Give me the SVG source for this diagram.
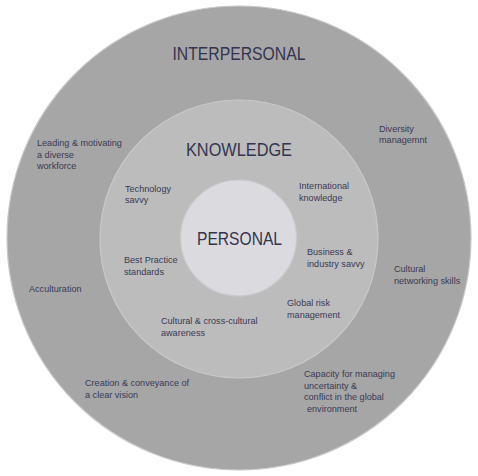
<svg xmlns="http://www.w3.org/2000/svg" width="478" height="476" viewBox="0 0 478 476">
<style>
.ring{stroke:#c9c9cc;stroke-width:1.2}
.big{font-family:"Liberation Sans",Arial,sans-serif;font-size:18px;fill:#34344f;text-anchor:middle}
.sm{font-family:"Liberation Sans",Arial,sans-serif;font-size:9.1px;fill:#3a3a55}
</style>
<rect width="478" height="476" fill="#ffffff"/>
<g id="interpersonal">
<circle class="ring" cx="239" cy="238" r="232" fill="#a6a6a6"/>
<text class="big" x="239" y="60" textLength="133" lengthAdjust="spacingAndGlyphs">INTERPERSONAL</text>
</g>
<g id="knowledge">
<circle class="ring" cx="239" cy="239" r="139" fill="#bcbcbc"/>
<text class="big" x="239" y="156" textLength="106" lengthAdjust="spacingAndGlyphs">KNOWLEDGE</text>
</g>
<g id="personal">
<circle class="ring" cx="238.5" cy="238" r="58" fill="#dbdbdf"/>
<text class="big" x="239.5" y="245" textLength="85" lengthAdjust="spacingAndGlyphs">PERSONAL</text>
</g>
<g id="labels-outer" class="sm">
<text x="37" y="146">Leading &amp; motivating</text>
<text x="37" y="157.5">a diverse</text>
<text x="37" y="169">workforce</text>
<text x="379" y="131.5">Diversity</text>
<text x="379" y="143">managemnt</text>
<text x="29" y="292">Acculturation</text>
<text x="394" y="272">Cultural</text>
<text x="394" y="283.5">networking skills</text>
<text x="85" y="386">Creation &amp; conveyance of</text>
<text x="85" y="398">a clear vision</text>
<text x="304" y="376.5">Capacity for managing</text>
<text x="304" y="388.5">uncertainty &amp;</text>
<text x="304" y="400.3">conflict in the global</text>
<text x="307" y="412">environment</text>
</g>
<g id="labels-knowledge" class="sm">
<text x="125" y="191.5">Technology</text>
<text x="125" y="203">savvy</text>
<text x="299" y="189">International</text>
<text x="299" y="200.7">knowledge</text>
<text x="124" y="263.3">Best Practice</text>
<text x="124" y="274.7">standards</text>
<text x="307" y="255.3">Business &amp;</text>
<text x="307" y="266.8">industry savvy</text>
<text x="287" y="306">Global risk</text>
<text x="287" y="317.5">management</text>
<text x="161" y="324.3">Cultural &amp; cross-cultural</text>
<text x="161" y="335.8">awareness</text>
</g>
</svg>
